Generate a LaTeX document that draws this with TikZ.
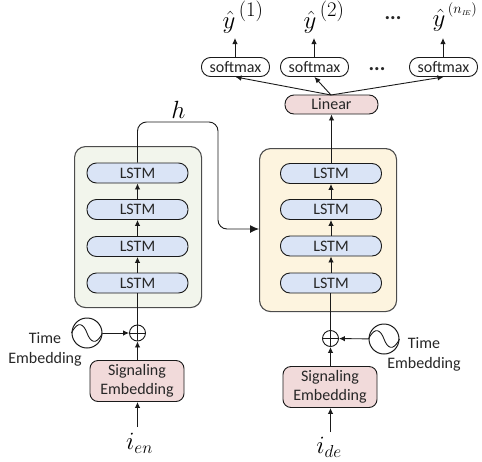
\documentclass[tikz,border=0pt]{standalone}
\usepackage{amsmath}
\usepackage{fontspec}
\setmainfont{Carlito}
\usetikzlibrary{arrows.meta,calc}
\definecolor{encbg}{HTML}{F2F5EC}
\definecolor{decbg}{HTML}{FDF4DF}
\definecolor{lstmc}{HTML}{DAE4F6}
\definecolor{pinkc}{HTML}{F1DADA}
\definecolor{ln}{HTML}{1A1A1A}
\newcommand{\suprs}[1]{^{\raisebox{3pt}{\fontsize{20}{22}\selectfont$\,#1$}}}
\tikzset{
  every node/.style={font=\fontsize{16}{19}\selectfont, text=black!85},
  conn/.style={draw=ln,line width=0.9pt},
  arr/.style={conn,-{Latex[length=6pt,width=5.5pt]}},
  bigarr/.style={conn,-{Latex[length=9pt,width=8pt]}},
  outer/.style={draw=black!70,line width=1.1pt,rounded corners=11pt,anchor=north west,inner sep=0},
  lstm/.style={draw=ln,line width=0.9pt,fill=lstmc,rounded corners=9.5pt,minimum width=101pt,minimum height=20pt,inner sep=0},
  pinkbox/.style={draw=ln,line width=0.9pt,fill=pinkc,rounded corners=8pt,minimum width=94pt,minimum height=41pt,inner sep=0,align=center},
  soft/.style={draw=ln,line width=0.9pt,fill=white,rounded corners=9pt,minimum width=68pt,minimum height=19pt,inner sep=0},
  linearb/.style={draw=ln,line width=0.9pt,fill=pinkc,rounded corners=9pt,minimum width=93pt,minimum height=19pt,inner sep=0},
  plusn/.style={circle,draw=ln,line width=0.9pt,minimum size=16pt,inner sep=0},
  sinen/.style={circle,draw=ln,line width=1pt,minimum size=30pt,inner sep=0},
  lab/.style={align=center,inner sep=0,font=\fontsize{16}{20}\selectfont},
  mathl/.style={inner sep=0,text=black,font=\fontsize{23}{26}\selectfont},
  dotsl/.style={inner sep=0,font=\bfseries\fontsize{21}{22}\selectfont}
}
\newcommand{\plusmark}[1]{\draw[conn] (#1.north) -- (#1.south) (#1.west) -- (#1.east);}
\newcommand{\sinemark}[1]{\draw[conn] (#1.west) .. controls ($(#1.west)+(7,-14)$) and ($(#1.center)+(-3,-8)$) .. (#1.center) .. controls ($(#1.center)+(3,8)$) and ($(#1.east)+(-7,14)$) .. (#1.east);}
\begin{document}
\begin{tikzpicture}[x=1pt,y=-1pt]
\useasboundingbox (0,0) rectangle (482,461);
% outer boxes
\node[outer,fill=encbg,minimum width=127pt,minimum height=161pt] (enc) at (74,146) {};
\node[outer,fill=decbg,minimum width=137pt,minimum height=163pt] (dec) at (259,148) {};
% encoder LSTMs
\node[lstm] (e1) at (137.5,173) {LSTM};
\node[lstm] (e2) at (137.5,209.5) {LSTM};
\node[lstm] (e3) at (137.5,246.5) {LSTM};
\node[lstm] (e4) at (137.5,283) {LSTM};
\draw[arr] (e4) -- (e3);
\draw[arr] (e3) -- (e2);
\draw[arr] (e2) -- (e1);
% decoder LSTMs
\node[lstm] (d1) at (331,173.5) {LSTM};
\node[lstm] (d2) at (331,209.5) {LSTM};
\node[lstm] (d3) at (331,246) {LSTM};
\node[lstm] (d4) at (331,283) {LSTM};
\draw[arr] (d4) -- (d3);
\draw[arr] (d3) -- (d2);
\draw[arr] (d2) -- (d1);
% linear, softmax
\node[linearb] (lin) at (331.5,104.5) {Linear};
\node[soft] (s1) at (235.5,67) {softmax};
\node[soft] (s2) at (314.5,67) {softmax};
\node[soft] (s3) at (443.5,67) {softmax};
\draw[arr] (d1.north -| lin) -- (lin);
\coordinate (lt) at (331,95);
\draw[arr] (lt) -- (s1.south);
\draw[arr] (lt) -- (s2.south);
\draw[arr] (lt) -- (s3.south);
% outputs
\node[mathl] (y1) at (243,17) {$\hat{y}\suprs{(1)}$};
\node[mathl] (y2) at (324,17) {$\hat{y}\suprs{(2)}$};
\node[mathl] (y3) at (455,17) {$\hat{y}^{\raisebox{4pt}{\fontsize{15}{16}\selectfont$\,(n_{\scriptscriptstyle I\!E})$}}$};
\coordinate (t1) at (235,38);
\coordinate (t2) at (314,38);
\coordinate (t3) at (443,38);
\draw[arr] (s1.north -| t1) -- (t1);
\draw[arr] (s2.north -| t2) -- (t2);
\draw[arr] (s3.north -| t3) -- (t3);
\node[dotsl] (dt1) at (393,18) {...};
\node[dotsl] (dt2) at (377,69) {...};
% h
\coordinate (hA) at (137.5,122);
\coordinate (hB) at (218,122);
\coordinate (hC) at (218,229);
\coordinate (hD) at (259,229);
\draw[bigarr,rounded corners=9pt] (e1.north) -- (hA) -- (hB) -- (hC) -- (hD);
\node[mathl,font=\fontsize{24}{26}\selectfont] (h) at (178.5,110) {$h$};
% encoder input
\node[plusn] (pe) at (137.5,333) {};
\plusmark{pe}
\node[sinen] (se) at (87,333) {};
\sinemark{se}
\node[pinkbox] (ge) at (137,381) {Signaling\\Embedding};
\node[mathl] (ie) at (139.5,443) {$i_{en}$};
\node[lab] (te) at (45,349) {Time\\Embedding};
\coordinate (ie0) at (137.5,427);
\draw[conn] (e4.south) -- (pe.north);
\draw[arr] (se) -- (pe);
\draw[arr] (ge.north -| pe) -- (pe);
\draw[arr] (ie0) -- (ge.south -| ie0);
% decoder input
\node[plusn] (pd) at (330.5,338.5) {};
\plusmark{pd}
\node[sinen] (sd) at (384,339) {};
\sinemark{sd}
\node[pinkbox] (gd) at (330,387) {Signaling\\Embedding};
\node[mathl] (id) at (329,447) {$i_{de}$};
\node[lab] (td) at (424,354) {Time\\Embedding};
\coordinate (id0) at (330.5,432);
\draw[conn] (pd.north) -- (pd.north |- d4.south);
\draw[arr] (sd) -- (pd);
\draw[arr] (gd.north -| pd) -- (pd);
\draw[arr] (id0) -- (gd.south -| id0);
\end{tikzpicture}
\end{document}
